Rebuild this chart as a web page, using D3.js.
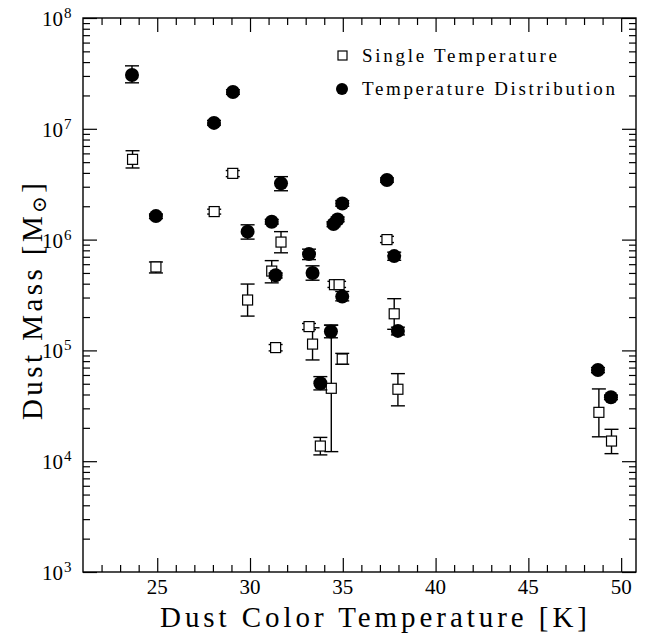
<!DOCTYPE html>
<html>
<head>
<meta charset="utf-8">
<script src="https://cdn.jsdelivr.net/npm/d3@7"></script>
<style>
  body { margin: 0; background: #fff; }
  text { font-family: "Liberation Serif", "DejaVu Serif", serif; fill: #000; }
</style>
</head>
<body>
<div class="canvas"></div>
<script>
// single temperature fits (open squares)
const stTemp = [23.67, 24.93, 28.07, 29.07, 29.87, 31.17, 31.38, 31.67, 33.18, 33.37, 33.79, 34.38, 34.55, 34.8, 34.97, 37.38, 37.77, 37.97, 48.8, 49.48];
const stMass = [5.3e6, 5.66e5, 1.79e6, 3.96e6, 2.85e5, 5.2e5, 1.06e5, 9.5e5, 1.64e5, 1.14e5, 1.37e4, 4.55e4, 3.92e5, 3.92e5, 8.36e4, 1.0e6, 2.14e5, 4.46e4, 2.76e4, 1.52e4];
const stLo   = [4.43e6, 5.0e5, 1.7e6, 3.7e6, 2.04e5, 4.07e5, 9.9e4, 7.6e5, 1.54e5, 8.2e4, 1.14e4, 1.22e4, 3.7e5, 3.7e5, 7.5e4, 9.4e5, 1.55e5, 3.16e4, 1.66e4, 1.17e4];
const stHi   = [6.34e6, 6.28e5, 1.88e6, 4.2e6, 3.97e5, 6.46e5, 1.13e5, 1.18e6, 1.75e5, 1.6e5, 1.64e4, 1.69e5, 4.2e5, 4.2e5, 9.4e4, 1.07e6, 2.93e5, 6.17e4, 4.49e4, 1.94e4];

// temperature distribution fits (filled circles)
const tdTemp = [23.64, 24.93, 28.06, 29.08, 29.87, 31.17, 31.38, 31.67, 33.18, 33.37, 33.79, 34.36, 34.5, 34.72, 34.97, 34.97, 37.38, 37.77, 37.97, 48.75, 49.45];
const tdMass = [3.06e7, 1.63e6, 1.13e7, 2.15e7, 1.18e6, 1.45e6, 4.77e5, 3.22e6, 7.4e5, 5.0e5, 5.05e4, 1.48e5, 1.38e6, 1.52e6, 2.12e6, 3.06e5, 3.45e6, 7.1e5, 1.5e5, 6.65e4, 3.78e4];
const tdLo   = [2.6e7, 1.55e6, 1.08e7, 2.05e7, 1.01e6, 1.38e6, 4.5e5, 2.76e6, 6.6e5, 4.3e5, 4.4e4, 1.3e5, 1.31e6, 1.45e6, 2.0e6, 2.8e5, 3.3e6, 6.5e5, 1.38e5, 6.3e4, 3.6e4];
const tdHi   = [3.7e7, 1.7e6, 1.19e7, 2.25e7, 1.36e6, 1.52e6, 5.0e5, 3.7e6, 8.2e5, 5.8e5, 5.8e4, 1.69e5, 1.45e6, 1.6e6, 2.25e6, 3.4e5, 3.6e6, 7.7e5, 1.62e5, 7.0e4, 3.95e4];

// axis ticks
const xMajor = [25, 30, 35, 40, 45, 50];
const xMinor = d3.range(22, 51);
const yMajor = [1e3, 1e4, 1e5, 1e6, 1e7, 1e8];
const yExp = ['3', '4', '5', '6', '7', '8'];

const dims = { width: 646, height: 637 };
const plot = { left: 83, right: 636, top: 18, bottom: 572 };

const svg = d3.select('.canvas')
    .append('svg')
    .attr('width', dims.width)
    .attr('height', dims.height);

const x = d3.scaleLinear().domain([21, 50.8]).range([plot.left, plot.right]);
const y = d3.scaleLog().domain([1e3, 1e8]).range([plot.bottom, plot.top]);

// minor y ticks at 2..9 of each decade
const yMinor = [];
for (let e = 3; e < 8; e++) {
    for (let m = 2; m <= 9; m++) yMinor.push(m * Math.pow(10, e));
}

// frame
svg.append('rect')
    .attr('x', plot.left).attr('y', plot.top)
    .attr('width', plot.right - plot.left)
    .attr('height', plot.bottom - plot.top)
    .attr('fill', 'none')
    .attr('stroke', '#000')
    .attr('stroke-width', 1.4);

// ticks on all four sides, pointing in
const tickAxis = (axis, vals, size, transform) => {
    const g = svg.append('g')
        .attr('transform', transform)
        .call(axis.tickValues(vals).tickSize(-size).tickSizeOuter(0).tickFormat(''));
    g.select('.domain').remove();
    g.selectAll('line').attr('stroke', '#000').attr('stroke-width', 1.2);
};

tickAxis(d3.axisBottom(x), xMajor, 14, `translate(0, ${plot.bottom})`);
tickAxis(d3.axisBottom(x), xMinor.filter(v => !xMajor.includes(v)), 7, `translate(0, ${plot.bottom})`);
tickAxis(d3.axisTop(x), xMajor, 14, `translate(0, ${plot.top})`);
tickAxis(d3.axisTop(x), xMinor.filter(v => !xMajor.includes(v)), 7, `translate(0, ${plot.top})`);
tickAxis(d3.axisLeft(y), yMajor, 14, `translate(${plot.left}, 0)`);
tickAxis(d3.axisLeft(y), yMinor, 7, `translate(${plot.left}, 0)`);
tickAxis(d3.axisRight(y), yMajor, 14, `translate(${plot.right}, 0)`);
tickAxis(d3.axisRight(y), yMinor, 7, `translate(${plot.right}, 0)`);

// tick labels
svg.append('g').selectAll('text')
    .data(xMajor)
    .enter().append('text')
    .attr('x', d => x(d))
    .attr('y', 594)
    .attr('text-anchor', 'middle')
    .attr('font-size', 21)
    .text(d => d);

svg.append('g').selectAll('text')
    .data(yMajor)
    .enter().append('text')
    .attr('x', 63)
    .attr('y', d => y(d) + 8)
    .attr('text-anchor', 'end')
    .attr('font-size', 21)
    .text('10');
svg.append('g').selectAll('text')
    .data(yMajor)
    .enter().append('text')
    .attr('x', 64)
    .attr('y', d => y(d) + 0)
    .attr('font-size', 15)
    .text((d, i) => yExp[i]);

// axis titles
svg.append('text')
    .attr('x', 160)
    .attr('y', 627)
    .attr('font-size', 29)
    .attr('textLength', 427)
    .attr('lengthAdjust', 'spacing')
    .text('Dust Color Temperature [K]');

const yTitle = svg.append('text')
    .attr('transform', 'translate(42, 420) rotate(-90)')
    .attr('font-size', 29)
    .attr('textLength', 237)
    .attr('lengthAdjust', 'spacing');
yTitle.append('tspan').text('Dust Mass [M');
yTitle.append('tspan').attr('font-size', 20).attr('dy', 4).text('\u2299');
yTitle.append('tspan').attr('dy', -4).text(']');

// error bars
const errBars = (temps, lo, hi) => {
    const g = svg.append('g').attr('stroke', '#000').attr('stroke-width', 1.4);
    temps.forEach((t, i) => {
        g.append('line').attr('x1', x(t)).attr('x2', x(t)).attr('y1', y(lo[i])).attr('y2', y(hi[i]));
        [lo[i], hi[i]].forEach(v => {
            g.append('line').attr('x1', x(t) - 7).attr('x2', x(t) + 7).attr('y1', y(v)).attr('y2', y(v));
        });
    });
};

errBars(stTemp, stLo, stHi);

svg.append('g').selectAll('rect')
    .data(stTemp)
    .enter().append('rect')
    .attr('x', d => x(d) - 5)
    .attr('y', (d, i) => y(stMass[i]) - 5)
    .attr('width', 10)
    .attr('height', 10)
    .attr('fill', '#fff')
    .attr('stroke', '#000')
    .attr('stroke-width', 1.2);

errBars(tdTemp, tdLo, tdHi);

svg.append('g').selectAll('circle')
    .data(tdTemp)
    .enter().append('circle')
    .attr('cx', d => x(d))
    .attr('cy', (d, i) => y(tdMass[i]))
    .attr('r', 7)
    .attr('fill', '#000');

// legend
const legend = svg.append('g');
legend.append('rect')
    .attr('x', 338).attr('y', 51).attr('width', 9).attr('height', 9)
    .attr('fill', '#fff').attr('stroke', '#000').attr('stroke-width', 1.2);
legend.append('text')
    .attr('x', 362).attr('y', 62)
    .attr('font-size', 19)
    .attr('textLength', 195).attr('lengthAdjust', 'spacing')
    .text('Single Temperature');
legend.append('circle')
    .attr('cx', 342).attr('cy', 89).attr('r', 6).attr('fill', '#000');
legend.append('text')
    .attr('x', 362).attr('y', 95)
    .attr('font-size', 19)
    .attr('textLength', 253).attr('lengthAdjust', 'spacing')
    .text('Temperature Distribution');
</script>
</body>
</html>
